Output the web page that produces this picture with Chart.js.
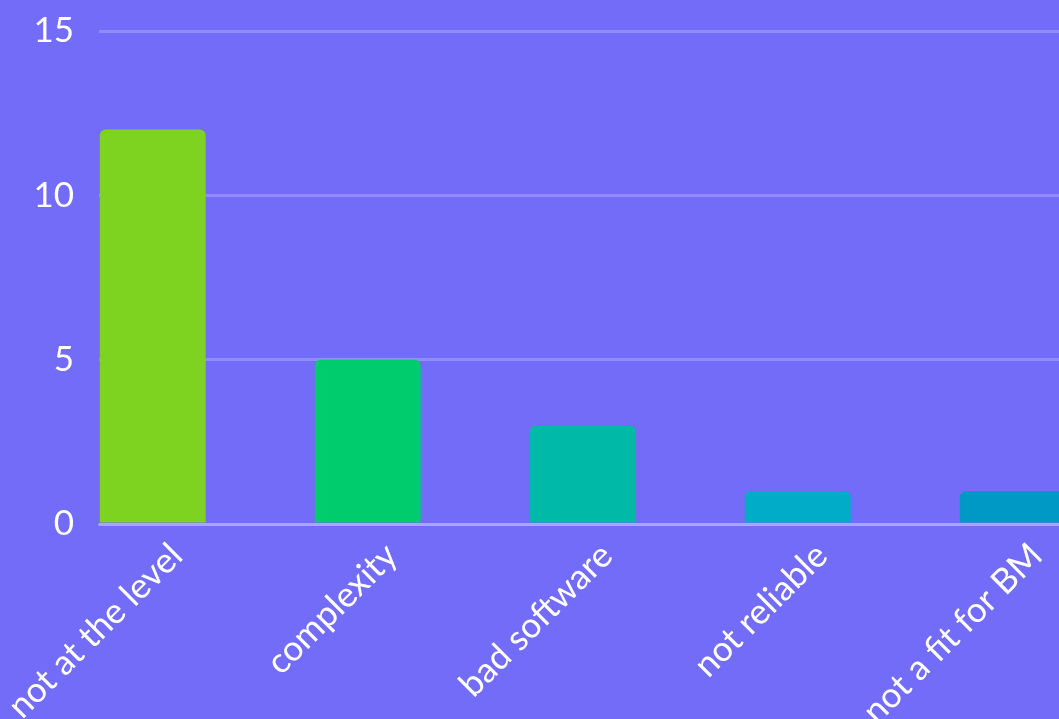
<!DOCTYPE html>
<html>
<head>
<meta charset="utf-8">
<script src="https://cdn.jsdelivr.net/npm/chart.js@4"></script>
<style>
    html, body { margin: 0; padding: 0; background: #726cf8; overflow: hidden; }
    #wrap { position: absolute; left: 0; top: 0; width: 1176px; height: 760px; }
</style>
</head>
<body>
<div id="wrap"><canvas id="reasonsChart" width="1176" height="760"></canvas></div>
<script>
const categories = ['not at the level', 'complexity', 'bad software', 'not reliable', 'not a fit for BM'];
const answerCounts = [12, 5, 3, 1, 1];
const yTicks = [0, 5, 10, 15];
const barColors = [
    '#7ed321',  // green
    '#00cc6e',  // emerald
    '#00baa8',  // teal
    '#00acc8',  // cyan
    '#0098c4',  // blue
];

const ctx = document.getElementById('reasonsChart').getContext('2d');

const chartData = {
    labels: categories,
    datasets: [
        {
            label: 'Answers',
            data: answerCounts,
            backgroundColor: barColors,
            borderRadius: 6,
            borderSkipped: 'start',
        },
        {
            // empty second group keeps bars on the left half of each slot
            label: '',
            data: categories.map(() => null),
        }
    ]
};

const chartConfig = {
    type: 'bar',
    data: chartData,
    options: {
        responsive: false,
        animation: false,
        devicePixelRatio: 1,
        categoryPercentage: 1,
        barPercentage: 0.985,
        layout: {
            padding: { left: 0, top: 31, right: 2, bottom: 0 }
        },
        scales: {
            x: {
                afterFit: (axis) => {
                    axis.paddingLeft = 0;
                    axis.paddingRight = 0;
                    axis.height = 236;
                },
                grid: { display: false },
                border: { color: 'rgba(255,255,255,0.22)', width: 3 },
                ticks: {
                    color: '#ffffff',
                    font: { family: 'Lato', size: 35 },
                    maxRotation: 45,
                    minRotation: 45,
                    labelOffset: -30,
                    padding: 3,
                }
            },
            y: {
                min: 0,
                max: 15,
                afterBuildTicks: (axis) => {
                    axis.ticks = yTicks.map(v => ({ value: v }));
                },
                afterFit: (axis) => {
                    axis.width = 99;
                    axis.paddingTop = 0;
                    axis.paddingBottom = 0;
                },
                grid: {
                    color: 'rgba(255,255,255,0.22)',
                    lineWidth: 3,
                    drawTicks: false,
                },
                border: { display: false },
                ticks: {
                    color: '#ffffff',
                    font: { family: 'Lato', size: 35 },
                    padding: 25,
                }
            }
        },
        plugins: {
            legend: { display: false },
            tooltip: { enabled: false },
            title: { display: false }
        }
    }
};

new Chart(ctx, chartConfig);
</script>
</body>
</html>
